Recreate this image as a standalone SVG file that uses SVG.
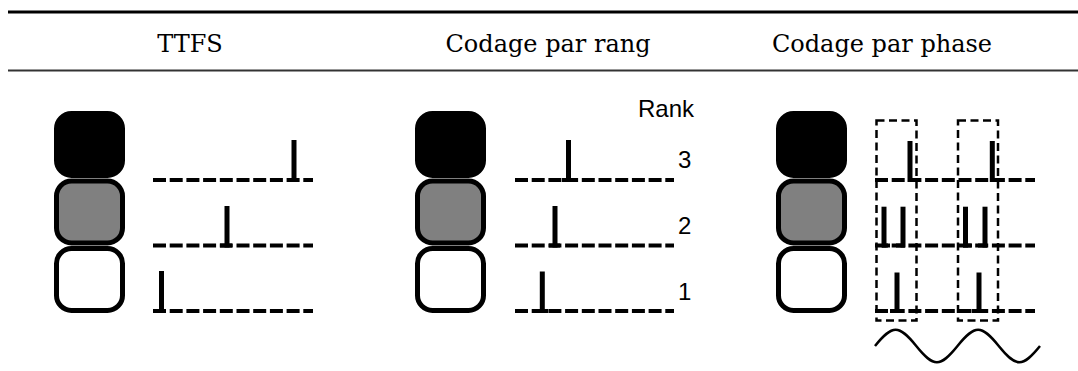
<svg xmlns="http://www.w3.org/2000/svg" width="1078" height="371" viewBox="0 0 1078 371">
<style>
.hdr{font-family:"DejaVu Serif","Liberation Serif",serif;font-size:24px;fill:#000;text-anchor:middle}
.lbl{font-family:"Liberation Sans",Arial,sans-serif;font-size:24px;fill:#000}
.cell{stroke:#000;stroke-width:5}
.base{stroke:#000;stroke-width:4;stroke-dasharray:13 3.7;fill:none}
.spk{stroke:#000;stroke-width:5;fill:none}
.foot{stroke:#000;stroke-width:4;fill:none}
.win{stroke:#000;stroke-width:2.5;stroke-dasharray:8 4.5;fill:none}
</style>
<g id="header">
<line x1="8" y1="12" x2="1078" y2="12" stroke="#000" stroke-width="3"/>
<line x1="8" y1="70.5" x2="1078" y2="70.5" stroke="#333" stroke-width="2"/>
<text class="hdr" x="190" y="52">TTFS</text>
<text class="hdr" x="548" y="52">Codage par rang</text>
<text class="hdr" x="882" y="52">Codage par phase</text>
</g>
<g id="ttfs">
<rect class="cell" x="56.5" y="113.5" width="66" height="62" rx="15" fill="#000"/>
<rect class="cell" x="56.5" y="248.5" width="66" height="62" rx="15" fill="#fff"/>
<rect class="cell" x="56.5" y="181" width="66" height="62" rx="15" fill="#808080"/>
</g>
<g id="rang">
<rect class="cell" x="417.5" y="113.5" width="66" height="62" rx="15" fill="#000"/>
<rect class="cell" x="417.5" y="248.5" width="66" height="62" rx="15" fill="#fff"/>
<rect class="cell" x="417.5" y="181" width="66" height="62" rx="15" fill="#808080"/>
<text class="lbl" x="638" y="117" font-size="25">Rank</text>
<text class="lbl" x="678" y="168">3</text>
<text class="lbl" x="678" y="234">2</text>
<text class="lbl" x="678" y="300">1</text>
</g>
<g id="phase">
<rect class="cell" x="778.5" y="113.5" width="66" height="62" rx="15" fill="#000"/>
<rect class="cell" x="778.5" y="248.5" width="66" height="62" rx="15" fill="#fff"/>
<rect class="cell" x="778.5" y="181" width="66" height="62" rx="15" fill="#808080"/>
<rect class="win" x="876.5" y="120.5" width="40" height="200"/>
<rect class="win" x="958" y="120.5" width="40" height="200"/>
<path d="M875,346 C892.5,324.3 898.75,324.3 916.25,346 C933.75,367.7 940,367.7 957.5,346 C975,324.3 981.25,324.3 998.75,346 C1016.25,367.7 1022.5,367.7 1040,346" fill="none" stroke="#000" stroke-width="2.5"/>
</g>
<g id="connectors">
<line class="base" x1="153" y1="180" x2="313" y2="180"/>
<line class="base" x1="153" y1="245.5" x2="313" y2="245.5"/>
<line class="base" x1="153" y1="311" x2="313" y2="311"/>
<line class="spk" x1="294" y1="140" x2="294" y2="182"/>
<line class="foot" x1="287" y1="180" x2="296" y2="180"/>
<line class="spk" x1="227" y1="206" x2="227" y2="247.5"/>
<line class="foot" x1="220" y1="245.5" x2="232" y2="245.5"/>
<line class="spk" x1="161.5" y1="271" x2="161.5" y2="313"/>
<line class="base" x1="515" y1="180" x2="674" y2="180"/>
<line class="base" x1="515" y1="245.5" x2="674" y2="245.5"/>
<line class="base" x1="515" y1="311" x2="674" y2="311"/>
<line class="spk" x1="568.5" y1="140" x2="568.5" y2="182"/>
<line class="foot" x1="562" y1="180" x2="574" y2="180"/>
<line class="spk" x1="555" y1="206" x2="555" y2="247.5"/>
<line class="foot" x1="549" y1="245.5" x2="560" y2="245.5"/>
<line class="spk" x1="542.3" y1="271.5" x2="542.3" y2="313"/>
<line class="foot" x1="536" y1="311" x2="548" y2="311"/>
<line class="base" x1="875" y1="180" x2="1035" y2="180"/>
<line class="base" x1="875" y1="245.5" x2="1035" y2="245.5"/>
<line class="base" x1="875" y1="311" x2="1035" y2="311"/>
<line class="spk" x1="910" y1="141" x2="910" y2="182"/>
<line class="foot" x1="908" y1="180" x2="916" y2="180"/>
<line class="spk" x1="992.3" y1="141" x2="992.3" y2="182"/>
<line class="foot" x1="990" y1="180" x2="998" y2="180"/>
<line class="spk" x1="884" y1="206.7" x2="884" y2="247.5"/>
<line class="foot" x1="882" y1="245.5" x2="890" y2="245.5"/>
<line class="spk" x1="903" y1="206.7" x2="903" y2="247.5"/>
<line class="foot" x1="896" y1="245.5" x2="905" y2="245.5"/>
<line class="spk" x1="965.5" y1="206.7" x2="965.5" y2="247.5"/>
<line class="foot" x1="963" y1="245.5" x2="972" y2="245.5"/>
<line class="spk" x1="985" y1="206.7" x2="985" y2="247.5"/>
<line class="foot" x1="978" y1="245.5" x2="987" y2="245.5"/>
<line class="spk" x1="897" y1="272.5" x2="897" y2="313"/>
<line class="foot" x1="890" y1="311" x2="904" y2="311"/>
<line class="spk" x1="979" y1="272.5" x2="979" y2="313"/>
<line class="foot" x1="972" y1="311" x2="986" y2="311"/>
</g>
</svg>
